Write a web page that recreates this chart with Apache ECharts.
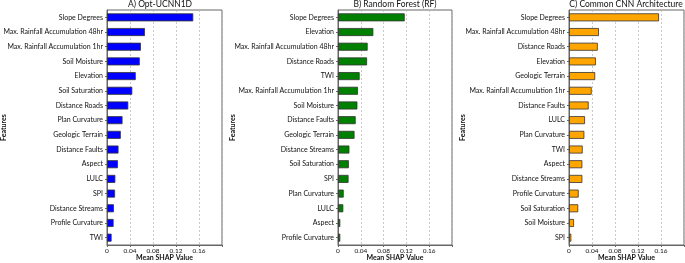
<!DOCTYPE html>
<html>
<head>
<meta charset="utf-8">
<script src="https://cdn.jsdelivr.net/npm/echarts@6/dist/echarts.min.js"></script>
<style>
  html, body { margin: 0; padding: 0; background: #fff; }
  #chart { width: 685px; height: 263px; }
</style>
</head>
<body>
<div id="chart"></div>
<script>
// panel A - Opt-UCNN1D
const featuresA = ['Slope Degrees', 'Max. Rainfall Accumulation 48hr', 'Max. Rainfall Accumulation 1hr', 'Soil Moisture',
  'Elevation', 'Soil Saturation', 'Distance Roads', 'Plan Curvature', 'Geologic Terrain', 'Distance Faults',
  'Aspect', 'LULC', 'SPI', 'Distance Streams', 'Profile Curvature', 'TWI']
const valuesA = [0.150, 0.066, 0.059, 0.057, 0.050, 0.044, 0.037, 0.027, 0.024, 0.020, 0.019, 0.0145, 0.014, 0.012, 0.0115, 0.008]

// panel B - Random Forest
const featuresB = ['Slope Degrees', 'Elevation', 'Max. Rainfall Accumulation 48hr', 'Distance Roads', 'TWI',
  'Max. Rainfall Accumulation 1hr', 'Soil Moisture', 'Distance Faults', 'Geologic Terrain', 'Distance Streams',
  'Soil Saturation', 'SPI', 'Plan Curvature', 'LULC', 'Aspect', 'Profile Curvature']
const valuesB = [0.117, 0.062, 0.052, 0.051, 0.038, 0.035, 0.034, 0.031, 0.029, 0.020, 0.019, 0.0185, 0.010, 0.0093, 0.004, 0.004]

// panel C - Common CNN
const featuresC = ['Slope Degrees', 'Max. Rainfall Accumulation 48hr', 'Distance Roads', 'Elevation', 'Geologic Terrain',
  'Max. Rainfall Accumulation 1hr', 'Distance Faults', 'LULC', 'Plan Curvature', 'TWI', 'Aspect',
  'Distance Streams', 'Profile Curvature', 'Soil Saturation', 'Soil Moisture', 'SPI']
const valuesC = [0.1565, 0.052, 0.050, 0.0467, 0.0455, 0.0394, 0.0342, 0.0278, 0.0267, 0.0238, 0.0232, 0.0232, 0.0168, 0.016, 0.0087, 0.004]

const titles = ['A) Opt-UCNN1D', 'B) Random Forest (RF)', 'C) Common CNN Architecture']
const xTicks = [0, 0.04, 0.08, 0.12, 0.16]

const font = 'Lato'
const panels = [
  { left: 107, width: 115, gap: 100, titleX: 160, color: '#0000ff', cats: featuresA, vals: valuesA },
  { left: 338, width: 114, gap: 102, titleX: 395, color: '#008000', cats: featuresB, vals: valuesB },
  { left: 569, width: 115, gap: 103, titleX: 626, color: '#ffa500', cats: featuresC, vals: valuesC }
]

let chart = echarts.init(document.getElementById('chart'))

let option = {
  animation: false,
  textStyle: { fontFamily: font },
  title: panels.map((p, i) => ({
    text: titles[i],
    left: p.titleX,
    top: 0,
    padding: 0,
    textAlign: 'center',
    textStyle: { fontSize: 8.5, fontWeight: 'normal', color: '#111', fontFamily: font }
  })),
  grid: panels.map(p => ({
    left: p.left,
    width: p.width,
    top: 10,
    bottom: 18,
    outerBoundsMode: 'none',
    containLabel: false,
    show: true,
    borderColor: '#666',
    borderWidth: 1
  })),
  xAxis: panels.map((p, i) => ({
    type: 'value',
    gridIndex: i,
    min: 0,
    max: 0.2,
    interval: 0.04,
    name: 'Mean SHAP Value',
    nameLocation: 'middle',
    nameGap: 9,
    nameMoveOverlap: false,
    nameTextStyle: { fontSize: 7, fontWeight: 'bold', color: '#111', fontFamily: font },
    axisLine: { show: true, lineStyle: { color: '#666' } },
    axisTick: { show: true, length: 2, lineStyle: { color: '#666' } },
    axisLabel: {
      fontSize: 6.5, color: '#111', margin: 2,
      formatter: v => (xTicks.some(t => Math.abs(t - v) < 1e-9) ? String(+v.toFixed(2)) : '')
    },
    splitLine: { show: true, lineStyle: { color: '#bbb', type: [2, 2], width: 0.8 } }
  })),
  yAxis: panels.map((p, i) => ({
    type: 'category',
    gridIndex: i,
    data: p.cats,
    inverse: true,
    name: 'Features',
    nameLocation: 'middle',
    nameRotate: 90,
    nameGap: p.gap,
    nameMoveOverlap: false,
    nameTextStyle: { fontSize: 7, fontWeight: 'bold', color: '#111', fontFamily: font },
    axisLine: { show: true, lineStyle: { color: '#666' } },
    axisTick: { show: true, length: 2, alignWithLabel: true, lineStyle: { color: '#666' } },
    axisLabel: { fontSize: 7, color: '#111', margin: 4 },
    splitLine: { show: false }
  })),
  series: panels.map((p, i) => ({
    type: 'bar',
    xAxisIndex: i,
    yAxisIndex: i,
    data: p.vals,
    barWidth: 8,
    itemStyle: { color: p.color, borderColor: '#333', borderWidth: 0.8 }
  }))
}

chart.setOption(option)
</script>
</body>
</html>
